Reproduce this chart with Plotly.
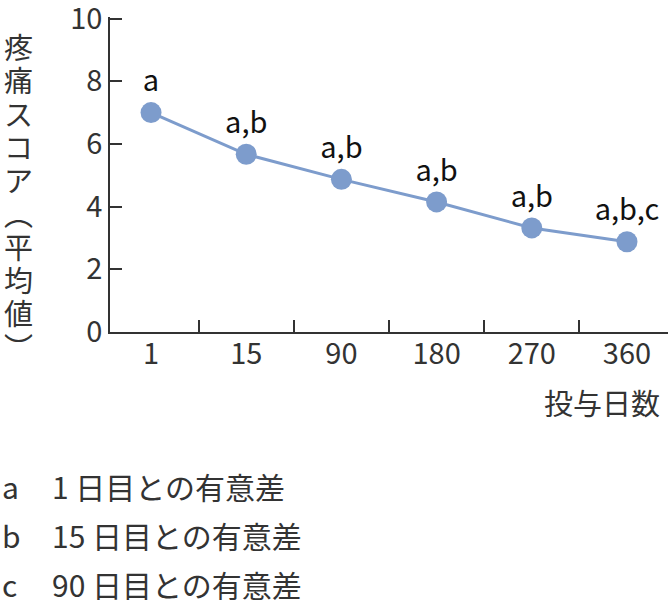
import plotly.graph_objects as go

days = ["1", "15", "90", "180", "270", "360"]
pain_mean = [7.0, 5.67, 4.87, 4.15, 3.32, 2.88]
sig_labels = ["a", "a,b", "a,b", "a,b", "a,b", "a,b,c"]
y_ticks = [0, 2, 4, 6, 8, 10]
y_title_chars = ["疼", "痛", "ス", "コ", "ア", "︵", "平", "均", "値", "︶"]
x_title = "投与日数"
legend_keys = ["a", "b", "c"]
legend_texts = ["1 日目との有意差", "15 日目との有意差", "90 日目との有意差"]

FONT = "Noto Sans CJK JP"
LINE = "#7d9ccc"
INK = "#333333"

# plot-area geometry (pixels)
L, R, T, B = 110, 2, 17, 268
W, H = 670, 600


def px_anno(text, px, py, xanchor="center", size=29, color=INK):
    """Annotation positioned in page pixels, relative to the plot area's bottom-left."""
    return dict(text=text, xref="paper", yref="paper", x=0, y=0,
                xshift=px - L, yshift=(H - B) - py,
                xanchor=xanchor, yanchor="middle", showarrow=False,
                font=dict(family=FONT, size=size, color=color))


fig = go.Figure()
fig.add_trace(go.Scatter(
    x=days, y=pain_mean, mode="lines+markers+text",
    text=sig_labels, textposition="top center",
    textfont=dict(family=FONT, size=29, color="#111111"),
    line=dict(color=LINE, width=3),
    marker=dict(color=LINE, size=21),
    cliponaxis=False, showlegend=False, hoverinfo="skip",
))

fig.update_layout(
    width=W, height=H,
    margin=dict(l=L, r=R, t=T, b=B, pad=0, autoexpand=False),
    paper_bgcolor="white", plot_bgcolor="white",
    font=dict(family=FONT, size=29, color=INK),
    xaxis=dict(
        type="category", showgrid=False, zeroline=False, automargin=False,
        showline=True, linecolor=INK, linewidth=1.5,
        ticks="inside", ticklen=12, tickwidth=1.5, tickcolor=INK,
        tickson="boundaries", ticklabelstandoff=-5,
        tickfont=dict(family=FONT, size=29, color=INK),
    ),
    yaxis=dict(
        range=[0, 10.05], tickvals=y_ticks, showgrid=False, zeroline=False,
        automargin=False,
        showline=True, linecolor=INK, linewidth=1.5,
        ticks="inside", ticklen=12, tickwidth=1.5, tickcolor=INK,
        ticklabeloverflow="allow",
        tickfont=dict(family=FONT, size=29, color=INK),
    ),
)

# vertical, upright y-axis title: one character per row
title_top, title_step = 46, 33.3
annotations = [px_anno(ch, 18, title_top + i * title_step)
               for i, ch in enumerate(y_title_chars)]
annotations.append(px_anno(x_title, 662, 402, xanchor="right"))
legend_rows = [486, 535, 584]
for key, txt, yy in zip(legend_keys, legend_texts, legend_rows):
    annotations.append(px_anno(key, 0, yy, xanchor="left", size=30))
    annotations.append(px_anno(txt, 50, yy, xanchor="left", size=30))
fig.update_layout(annotations=annotations)

fig.write_html("out.html", config={"displayModeBar": False},
               post_script="document.body.style.margin='0px';")
